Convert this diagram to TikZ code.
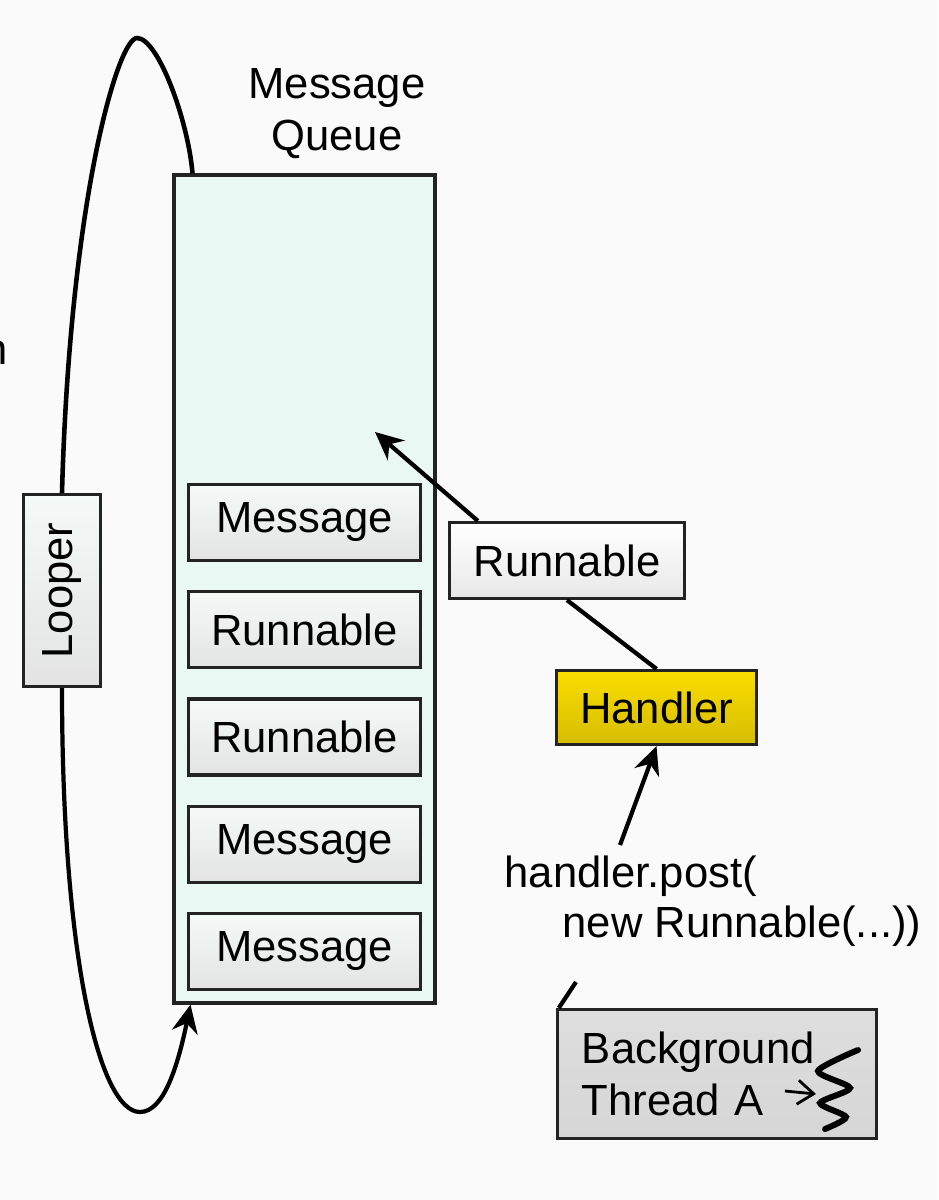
\documentclass[tikz,border=0pt]{standalone}
\usepackage{fontspec}
\setmainfont{Liberation Sans}
\usepackage{tikz}
\usetikzlibrary{arrows.meta,positioning,calc}
\usepackage{xcolor}
\definecolor{pagebg}{RGB}{250,250,250}
\definecolor{queuefill}{RGB}{234,248,244}
\definecolor{itemfill}{RGB}{244,250,248}
\definecolor{handleryellow}{RGB}{250,222,0}
\definecolor{edgegray}{RGB}{35,35,35}

\begin{document}
\begin{tikzpicture}[
  x=0.01cm, y=-0.01cm,
  node distance=0.28cm,
  every node/.style={font=\fontsize{12.4}{14.8}\selectfont},
  queue/.style={rectangle, draw=edgegray, fill=queuefill, line width=1.1pt,
    minimum width=2.60cm, minimum height=8.27cm},
  item/.style={rectangle, draw=edgegray, line width=0.9pt,
    shading=axis, top color=itemfill, middle color=itemfill, bottom color=gray!22,
    minimum width=2.32cm, minimum height=0.76cm},
  looperbox/.style={item, rotate=90, minimum width=1.92cm, minimum height=0.77cm},
  postbox/.style={item, top color=white, middle color=white, bottom color=gray!18,
    minimum width=2.35cm, minimum height=0.76cm},
  handlerbox/.style={item, top color=handleryellow, middle color=handleryellow,
    bottom color=handleryellow!85!black, minimum width=2.00cm, minimum height=0.74cm},
  threadbox/.style={item, top color=gray!26, middle color=gray!8, bottom color=gray!32,
    minimum width=3.19cm, minimum height=1.29cm, text width=2.7cm, align=left},
  arr/.style={-{Stealth[length=2.8mm, width=2.6mm]}, line width=1.2pt},
  link/.style={line width=1.2pt},
  loopline/.style={line width=1.3pt}
]
  \fill[pagebg] (0,0) rectangle (938,1200);
  \useasboundingbox (0,0) rectangle (938,1200);

  % Queue with its entries
  \node[queue] (queue) at (304.5,589) {};
  \node[align=center, inner sep=0pt] (title) at (337,114) {Message\\Queue};
  \node[item] (msga) at (304.5,522.5) {Message};
  \node[item, below=of msga] (runa) {Runnable};
  \node[item, below=of runa] (runb) {Runnable};
  \node[item, below=of runb] (msgb) {Message};
  \node[item, below=of msgb] (msgc) {Message};

  % Looper
  \node[looperbox] (looper) at (62,590.5) {Looper};
  \node[anchor=base west, inner sep=0pt] (cut) at (-17,364) {n};

  % Handler side
  \node[postbox] (runpost) at (567,560.5) {Runnable};
  \node[handlerbox] (handler) at (656.5,707.5) {Handler};
  \node[anchor=base west, inner sep=0pt] (posta) at (504,887) {handler.post(};
  \node[anchor=base west, inner sep=0pt] (postb) at (562,937) {new Runnable(...))};
  \node[threadbox] (thread) at (717,1074) {Background\\Thread A};
  \coordinate (drop) at (375,432);
  \coordinate (postfrom) at (620,845);
  \coordinate (tick) at (576,982);

  % Arrows
  \draw[loopline] (looper.east) .. controls (70,200) and (118,38) .. (137,38)
    .. controls (158,38) and (188,120) .. ([xshift=0.2cm]queue.north west);
  \draw[loopline, arr] (looper.west) .. controls (62,960) and (100,1112) .. (140,1112)
    .. controls (164,1112) and (178,1065) .. ([xshift=0.18cm]queue.south west);
  \draw[arr] ([xshift=0.3cm]runpost.north west) -- (drop);
  \draw[link] (runpost.south) -- (handler.north);
  \draw[arr] (postfrom) -- (handler.south);
  \draw[link] (tick) -- ([xshift=0.03cm]thread.north west);

  % Thread symbol
  \draw[line width=1.7pt, line cap=round] plot[smooth, tension=0.45] coordinates
    {(858,1050) (818,1071) (850,1088) (820,1103) (846,1117) (825,1129)};
  \draw[-{Straight Barb[length=1.6mm, width=2.4mm]}, line width=0.8pt] (785,1091) -- (816,1094);
\end{tikzpicture}
\end{document}
